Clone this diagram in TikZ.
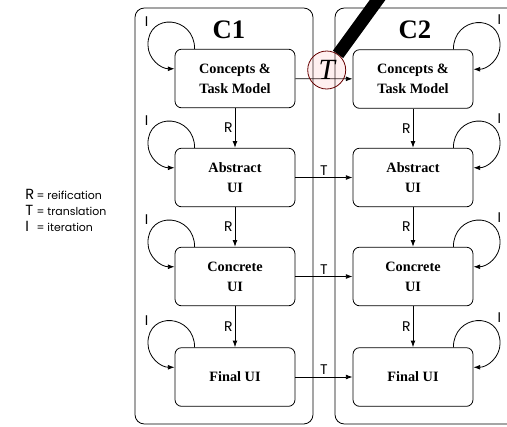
\documentclass[tikz,border=0pt]{standalone}
\usepackage{fontspec}
\setmainfont{Liberation Serif}
\newfontfamily\labelfont{Poppins}
\usetikzlibrary{positioning,arrows.meta}

\begin{document}
\begin{tikzpicture}[x=0.75pt,y=-0.75pt,line width=0.6pt,
    >={Latex[length=5pt,width=3.6pt]},
    stage/.style={draw,rounded corners=5pt,minimum width=90pt,minimum height=44pt,align=center,font=\bfseries\fontsize{10.7}{15}\selectfont},
    tag/.style={font=\labelfont\fontsize{10.5}{11}\selectfont,inner sep=1.5pt}]
            \useasboundingbox (0,0) rectangle (507,426);
            \clip (0,0) rectangle (507,426);

            % the two contexts
            \draw[rounded corners=7pt] (135,8) rectangle (313,424);
            \draw[rounded corners=7pt] (335,8) rectangle (530,424);
            \node[font=\bfseries\fontsize{20}{20}\selectfont] (c1title) at (229,30) {C1};
            \node[font=\bfseries\fontsize{20}{20}\selectfont] (c2title) at (415,30) {C2};

            % context C1
            \node[stage] (c1task) at (235,78.5) {Concepts \&\\Task Model};
            \node[stage] (c1abs) at (235,177.5) {Abstract\\UI};
            \node[stage] (c1con) at (235,276.5) {Concrete\\UI};
            \node[stage] (c1fin) at (235,377) {Final UI};

            % context C2
            \node[stage] (c2task) at (413,79) {Concepts \&\\Task Model};
            \node[stage] (c2abs) at (413,177.5) {Abstract\\UI};
            \node[stage] (c2con) at (413,276.5) {Concrete\\UI};
            \node[stage] (c2fin) at (413,377) {Final UI};

            % reification
            \draw[->] (c1task) -- (c1abs) node[tag,midway,left] {R};
            \draw[->] (c1abs) -- (c1con) node[tag,midway,left] {R};
            \draw[->] (c1con) -- (c1fin) node[tag,midway,left] {R};
            \draw[->] (c2task) -- (c2abs) node[tag,midway,left] {R};
            \draw[->] (c2abs) -- (c2con) node[tag,midway,left] {R};
            \draw[->] (c2con) -- (c2fin) node[tag,midway,left] {R};

            % translation
            \draw[->] (c1task) -- (c2task);
            \draw[->] (c1abs) -- (c2abs) node[tag,midway,above] {T};
            \draw[->] (c1con) -- (c2con) node[tag,midway,above] {T};
            \draw[->] (c1fin) -- (c2fin) node[tag,midway,above] {T};

            % iteration, left side
            \foreach \s in {c1task,c1abs,c1con,c1fin}{
                \draw[->] ([xshift=15pt]\s.north west) to[out=90,in=90,looseness=1.8] ([xshift=-20pt,yshift=3pt]\s.north west)
                    to[out=-90,in=180] ([yshift=-15pt]\s.north west);
                \node[tag] (\s-i) at ([xshift=-21pt,yshift=20pt]\s.north west) {I};
            }
            % iteration, right side
            \foreach \s in {c2task,c2abs,c2con,c2fin}{
                \draw[->] ([xshift=-15pt]\s.north east) to[out=90,in=90,looseness=1.8] ([xshift=20pt,yshift=3pt]\s.north east)
                    to[out=-90,in=0] ([yshift=-15pt]\s.north east);
                \node[tag] (\s-i) at ([xshift=19.5pt,yshift=22pt]\s.north east) {I};
            }

            % the translation lens
            \node[circle,draw=red!40!black,fill=red!30,fill opacity=0.2,text opacity=1,minimum size=28.5pt,inner sep=0pt,
                  font=\itshape\fontsize{22}{22}\selectfont] (lens) at (326.7,70) {T};
            \draw[line width=9.5pt] (lens.54) -- ++(54:70pt);

            % legend
            \node[anchor=west,inner sep=0pt,font=\labelfont] (legend) at (25,212) {%
                \begin{tabular}{@{}l@{\,}l@{}}
                \fontsize{11}{11}\selectfont R & \fontsize{8.2}{11}\selectfont = reification\\
                \fontsize{11}{11}\selectfont T & \fontsize{8.2}{11}\selectfont = translation\\
                \fontsize{11}{11}\selectfont I & \fontsize{8.2}{11}\selectfont = iteration
                \end{tabular}};
        \end{tikzpicture}
\end{document}
